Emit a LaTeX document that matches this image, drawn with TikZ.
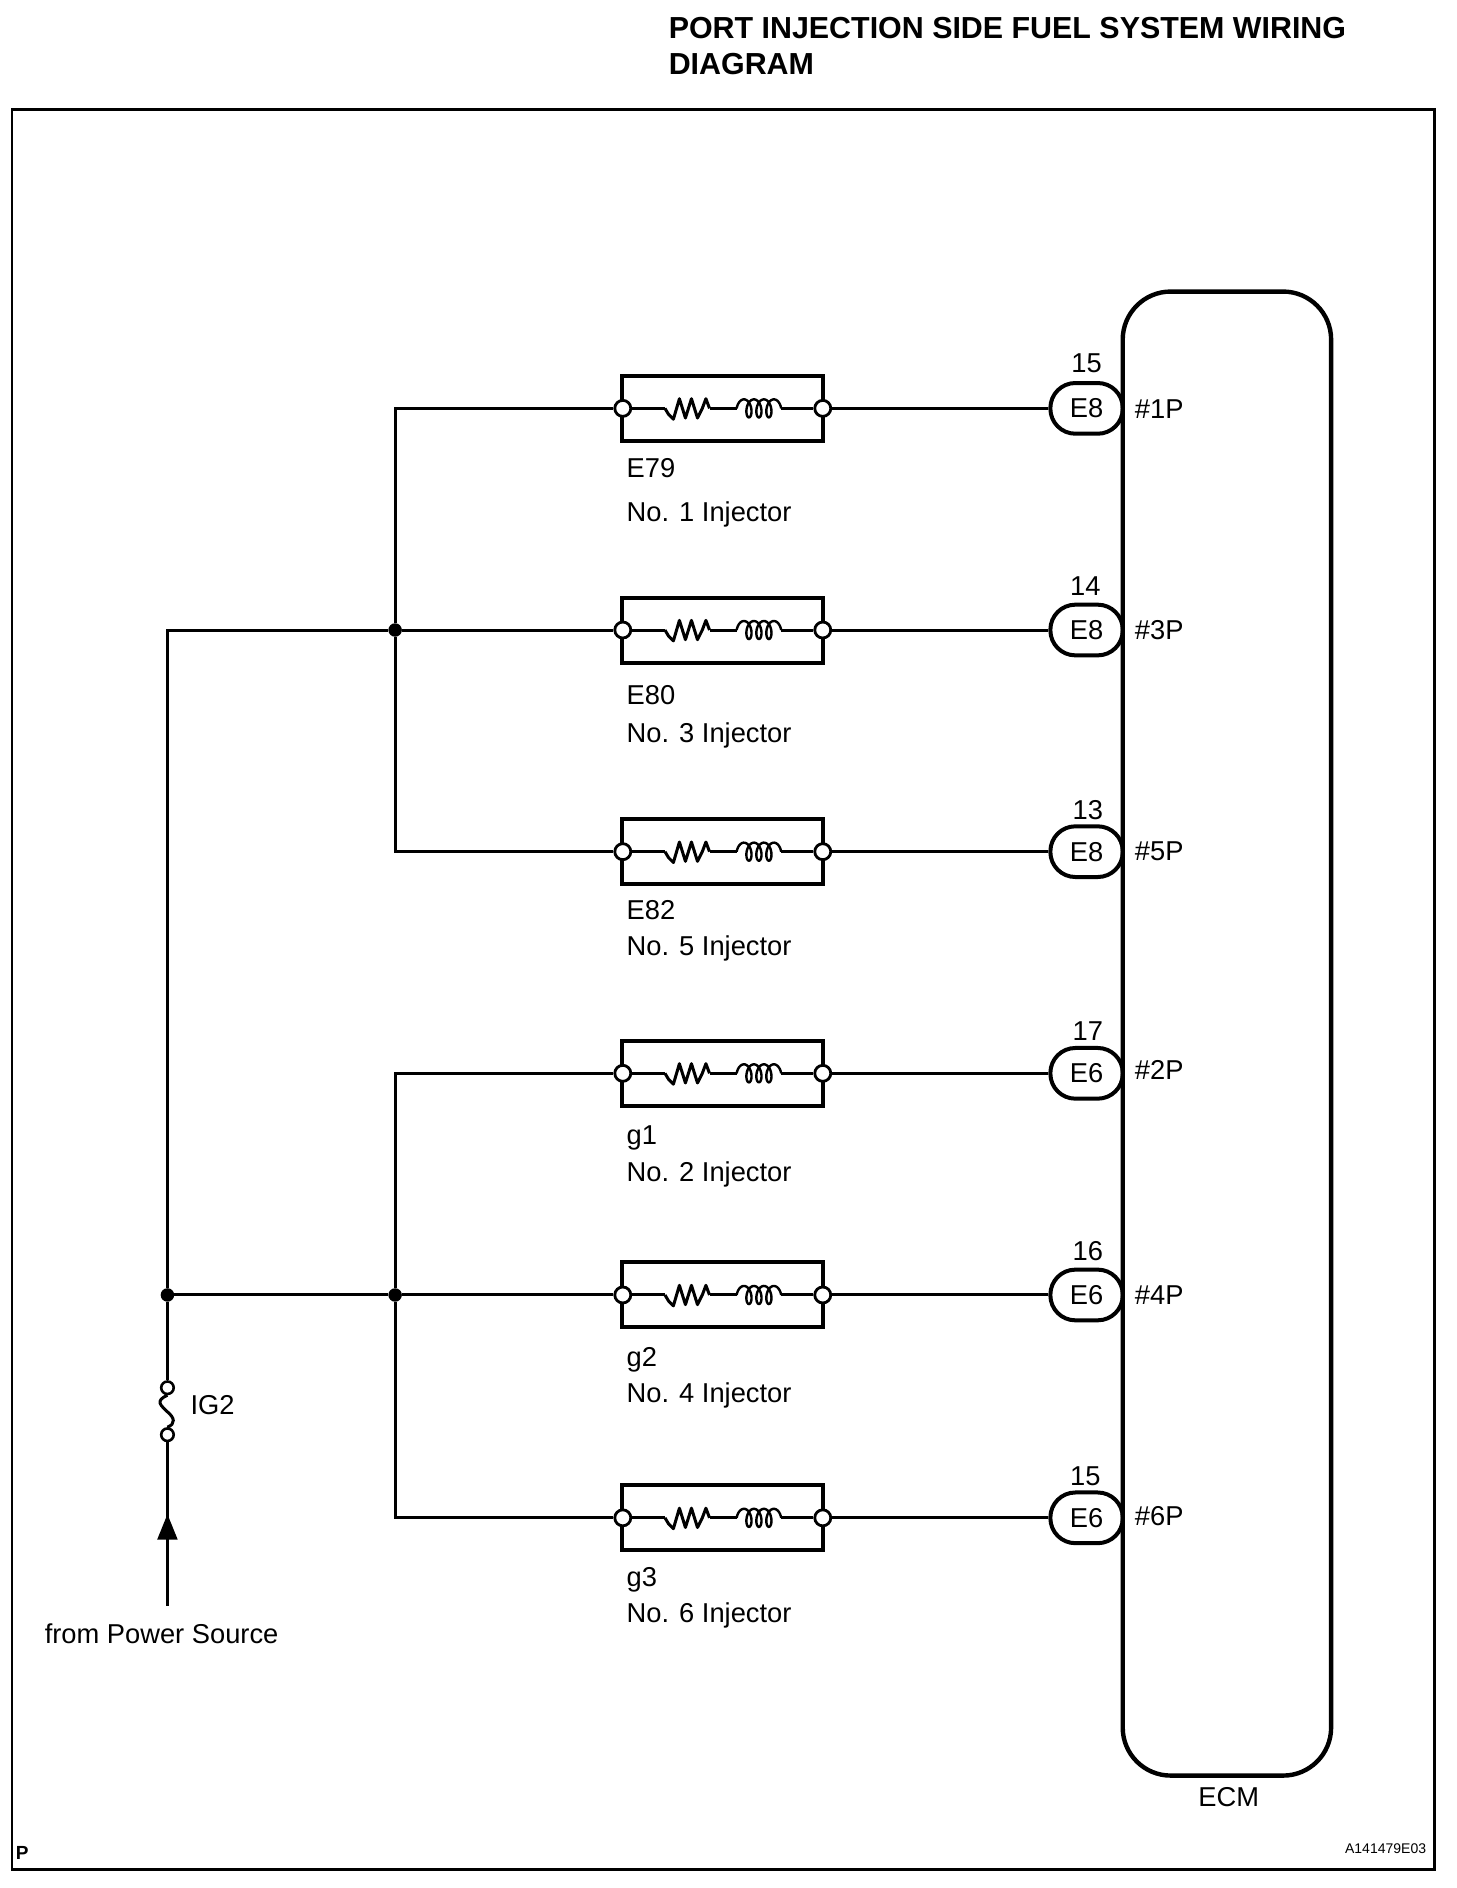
\documentclass[tikz,border=0pt]{standalone}
\usepackage{fontspec}
\setmainfont{Liberation Sans}
\usetikzlibrary{calc}
\tikzset{
  wire/.style={line width=3pt,line join=miter},
  comp/.style={draw,line width=4pt,rectangle,inner sep=0pt,minimum width=201pt,minimum height=65pt},
  term/.style={draw,line width=2.8pt,circle,fill=white,inner sep=0pt,minimum size=16pt},
  fuseterm/.style={draw,line width=2.6pt,circle,fill=white,inner sep=0pt,minimum size=12.5pt},
  junction/.style={circle,fill=black,inner sep=0pt,minimum size=13.5pt},
  conn/.style={draw,line width=4pt,rectangle,rounded corners=25pt,inner sep=0pt,minimum width=72.4pt,minimum height=50.7pt,font=\fontsize{27.3}{30}\selectfont},
  ecm/.style={draw,line width=4.4pt,rectangle,rounded corners=48pt,inner sep=0pt,minimum width=208.4pt,minimum height=1484pt},
  lab/.style={anchor=base west,inner sep=0pt,font=\fontsize{27.3}{30}\selectfont},
  labc/.style={anchor=base,inner sep=0pt,font=\fontsize{27.3}{30}\selectfont},
  title/.style={anchor=base west,inner sep=0pt,font=\fontsize{30.4}{36}\selectfont\bfseries}
}
\begin{document}
\begin{tikzpicture}[x=1.2046pt,y=-1.2046pt]
\useasboundingbox (0,0) rectangle (1208.7,1567.3);
\fill[white] (0,0) rectangle (1208.7,1567.3);
% frame and titles
\node[draw,line width=2.8pt,rectangle,inner sep=0pt,minimum width=1422.6pt,minimum height=1760pt] (frame) at (600.5,821.5) {};
\node[title] (t1) at (555,32) {PORT INJECTION SIDE FUEL SYSTEM WIRING};
\node[title] (t2) at (555,62) {DIAGRAM};
\node[anchor=base west,inner sep=0pt,font=\fontsize{19}{22}\selectfont\bfseries] (pp) at (13,1544) {P};
\node[anchor=base east,inner sep=0pt,font=\fontsize{14}{16}\selectfont] (code) at (1184,1539) {A141479E03};
% ECM
\node[ecm] (ecm) at (1018.5,858) {};
\node[labc] (ecmlab) at (1020,1500) {ECM};
% rows
\foreach \i/\y/\num/\numx/\numy/\con/\pin/\piny/\cy/\code/\ny/\name in {
 1/339/15/902/309/E8/\#1P/347/396/E79/433/No. 1 Injector,
 2/523/14/901/494/E8/\#3P/531/585/E80/616/No. 3 Injector,
 3/707/13/903/680/E8/\#5P/714/763/E82/793/No. 5 Injector,
 4/891/17/903/864/E6/\#2P/896/950/g1/981/No. 2 Injector,
 5/1075/16/903/1046/E6/\#4P/1083/1134/g2/1164/No. 4 Injector,
 6/1260/15/901/1233/E6/\#6P/1266/1317/g3/1347/No. 6 Injector}{
  \node[comp] (box\i) at (600,\y) {};
  \node[term] (ta\i) at (517,\y) {};
  \node[term] (tb\i) at (683,\y) {};
  \node[conn] (con\i) at (902,\y) {\con};
  \coordinate (rs\i) at (552,\y);
  \coordinate (re\i) at (589,\y);
  \coordinate (ls\i) at (612,\y);
  \coordinate (le\i) at (648,\y);
  \draw[wire] (tb\i) -- (con\i);
  \draw[wire] (ta\i) -- (rs\i);
  \draw[wire,line join=round] (rs\i) -- ++(3,5) -- ++(4,4) -- ++(5,-17) -- ++(5,16) -- ++(5,-16) -- ++(5,16) -- ++(4,-8) -- ++(3,-8) -- ++(3,8);
  \draw[wire] (re\i) -- (ls\i);
  \draw[line width=2.4pt,shift={(0,\y)}] plot[smooth,samples=90,domain=-90:1170,variable=\t] ({630+0.023*(\t-540)+4*sin(\t)},{-7.5*cos(\t)});
  \draw[wire] (le\i) -- (tb\i);
  \node[labc] (n\i) at (\numx,\numy) {\num};
  \node[lab] (pin\i) at (942,\piny) {\pin};
  \node[lab] (cd\i) at (520,\cy) {\code};
  \node[lab] (nm\i) at (520,\ny) {\name};
}
% junctions
\node[junction] (j1) at (328,523) {};
\node[junction] (j2) at (328,1075) {};
\node[junction] (j3) at (139,1075) {};
% bus wires
\draw[wire] (ta1) -- (328,339) -- (j1);
\draw[wire] (j1) -- (328,707) -- (ta3);
\draw[wire] (j1) -- (ta2);
\draw[wire] (ta4) -- (328,891) -- (j2);
\draw[wire] (j2) -- (328,1260) -- (ta6);
\draw[wire] (j2) -- (ta5);
\draw[wire] (j3) -- (j2);
% feed
\node[fuseterm] (f1) at (139,1152) {};
\node[fuseterm] (f2) at (139,1191) {};
\coordinate (src) at (139,1333);
\draw[wire] (j1) -- (139,523) -- (j3);
\draw[wire] (j3) -- (f1);
\draw[wire] (f2) -- (src);
\draw[wire] (f1.south) .. controls (128,1163) and (134,1167) .. (139,1172) .. controls (145,1177) and (146,1182) .. (f2.north);
\fill (139,1257) -- (147.5,1278) -- (130.5,1278) -- cycle;
\node[lab] (ig) at (158,1174) {IG2};
\node[lab] (from) at (37,1364) {from Power Source};
\end{tikzpicture}
\end{document}
